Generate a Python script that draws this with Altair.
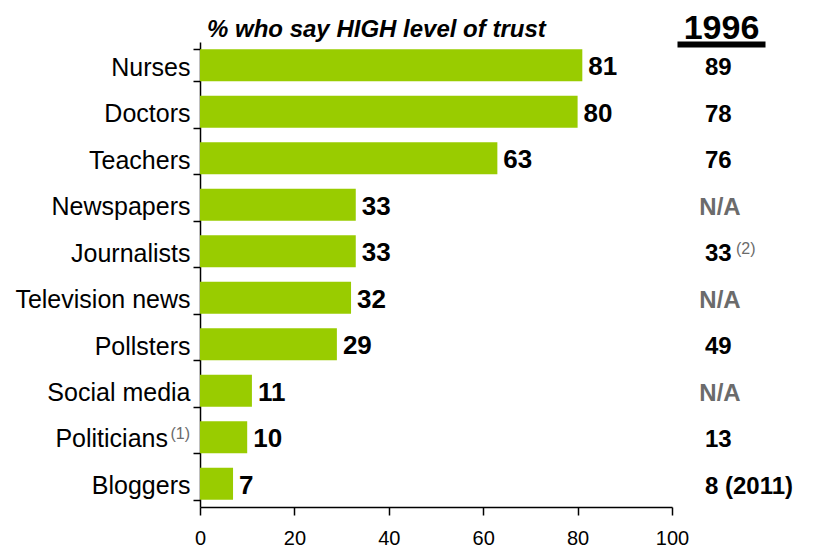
import altair as alt
import pandas as pd

categories = ["Nurses", "Doctors", "Teachers", "Newspapers", "Journalists",
              "Television news", "Pollsters", "Social media", "Politicians", "Bloggers"]
values = [81, 80, 63, 33, 33, 32, 29, 11, 10, 7]
y1996 = ["89", "78", "76", "N/A", "33", "N/A", "49", "N/A", "13", "8 (2011)"]
cat_notes = ["", "", "", "", "", "", "", "", "(1)", ""]
notes_1996 = ["", "", "", "", "(2)", "", "", "", "", ""]
x_ticks = [0, 20, 40, 60, 80, 100]
header = "1996"
title_text = "% who say HIGH level of trust"

GREEN = "#99CC00"
GREY = "#6B6B6B"
FONT = "Liberation Sans"

df = pd.DataFrame({
    "category": categories,
    "value": values,
    "y1996": y1996,
    "note": cat_notes,
    "note96": notes_1996,
    "hdr": [header] * len(categories),
    "zero": [0] * len(categories),
})

# categories that carry a footnote get their label drawn by a text layer instead
label_expr = "indexof(['Politicians'], datum.value) >= 0 ? '' : datum.value"

yenc = alt.Y("category:N", sort=categories,
             scale=alt.Scale(paddingInner=0.31, paddingOuter=0.155),
             axis=alt.Axis(title=None, labelFontSize=25, labelColor="black",
                           labelPadding=3, tickSize=7, tickColor="black",
                           tickWidth=1.5, tickBand="extent", domainColor="black",
                           domainWidth=1.5, labelExpr=label_expr, labelOffset=2))

xenc = alt.X("value:Q", scale=alt.Scale(domain=[0, 100]),
             axis=alt.Axis(title=None, values=x_ticks, grid=False, labelFontSize=20,
                           labelColor="black", tickSize=8, tickColor="black",
                           tickWidth=1.5, domainColor="black", domainWidth=1.5,
                           labelPadding=13, labelFlush=False))

base = alt.Chart(df)
ycat = alt.Y("category:N", sort=categories)

bars = base.mark_bar(color=GREEN).encode(x=xenc, y=yenc)

bar_labels = base.mark_text(align="left", baseline="middle", dx=6, dy=2,
                            fontSize=26, fontWeight="bold", color="black").encode(
    x="value:Q", y=ycat, text="value:Q")

noted = base.transform_filter("datum.note != ''")
noted_label = noted.mark_text(
    align="right", baseline="middle", dx=-32, dy=2, fontSize=25, color="black").encode(
    x="zero:Q", y=ycat, text="category:N")
sup1 = noted.mark_text(
    align="right", baseline="middle", dx=-10, dy=-3, fontSize=16, color=GREY).encode(
    x="zero:Q", y=ycat, text="note:N")

left = alt.layer(bars, bar_labels, noted_label, sup1).properties(
    width=472, height=465,
    title=alt.TitleParams(text=title_text, anchor="start", frame="group", dx=7,
                          fontSize=24, fontStyle="italic", fontWeight="bold",
                          color="black", offset=-12, font=FONT))

yr = alt.Y("category:N", sort=categories,
           scale=alt.Scale(paddingInner=0.31, paddingOuter=0.155), axis=None)
xr = alt.X("hdr:N", axis=alt.Axis(orient="top", title=None, ticks=False,
                                  domainWidth=6, domainColor="black", labelFontSize=34,
                                  labelFontWeight="bold", labelColor="black",
                                  labelAngle=0, labelPadding=-1, offset=-2))

nums = base.transform_filter("datum.y1996 != 'N/A'").mark_text(
    align="left", baseline="middle", dx=-16, dy=3, fontSize=24, fontWeight="bold",
    color="black").encode(x=xr, y=yr, text="y1996:N")

nas = base.transform_filter("datum.y1996 == 'N/A'").mark_text(
    align="center", baseline="middle", dx=-1, dy=3, fontSize=24, fontWeight="bold",
    color=GREY).encode(x=xr, y=yr, text="y1996:N")

sup2 = base.transform_filter("datum.note96 != ''").mark_text(
    align="left", baseline="middle", dx=15, dy=-2, fontSize=16, color=GREY).encode(
    x=xr, y=yr, text="note96:N")

right = alt.layer(nums, nas, sup2).properties(width=88, height=465)

chart = alt.hconcat(left, right, spacing=5, bounds="flush").properties(
    padding={"left": 6, "top": 2, "right": 5, "bottom": 5},
).configure(font=FONT).configure_view(stroke="transparent")

chart.save("out.html", embed_options={"renderer": "svg", "actions": False})
